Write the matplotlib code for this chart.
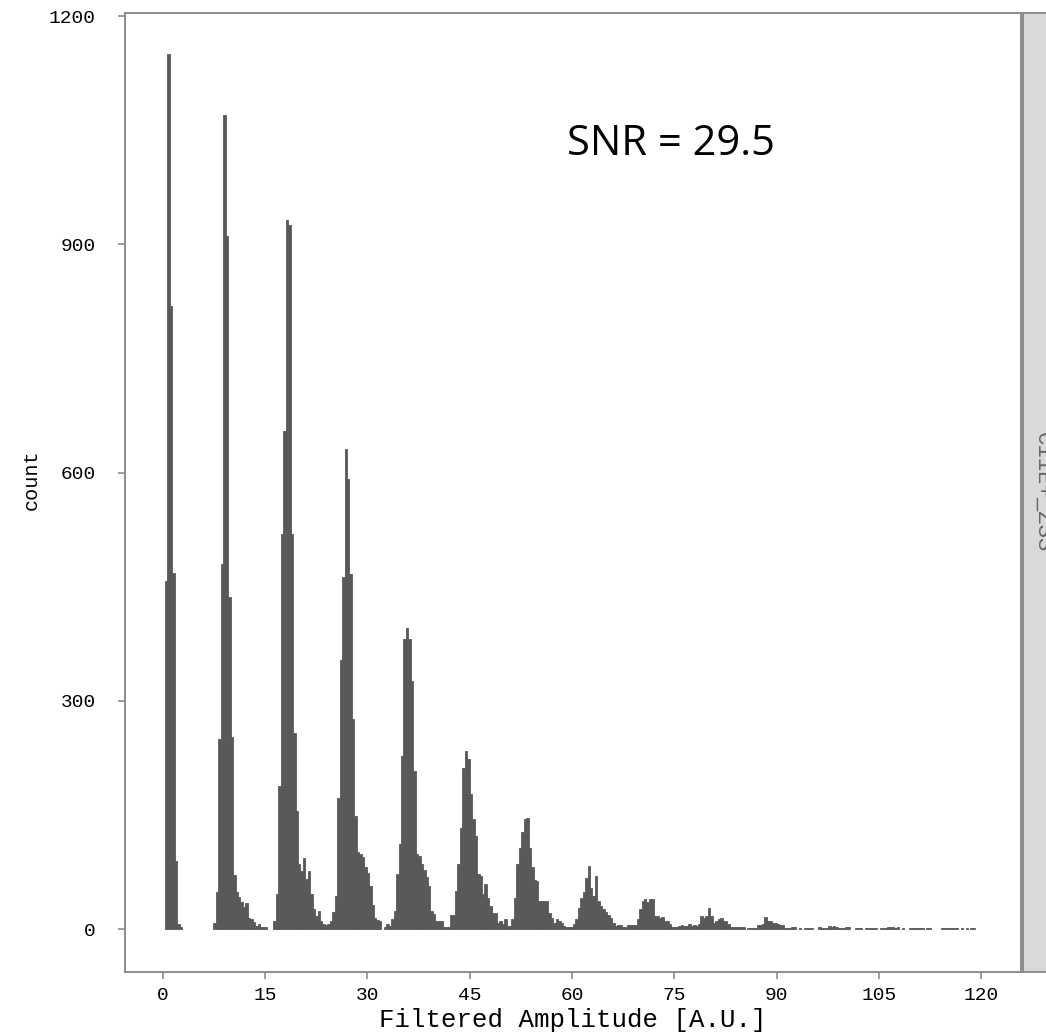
import matplotlib
matplotlib.use("Agg")
import matplotlib.pyplot as plt
import numpy as np

# ---- data: histogram counts per peak cluster (bin width in amplitude units) ----
bin_width = 0.36

peak_starts = [0.30, 7.40, 16.20, 24.84, 33.48, 42.12, 51.12, 59.76, 69.12, 77.40, 85.68]

peak0 = [457, 1150, 819, 468, 89, 6, 3]
peak1 = [8, 48, 250, 480, 1070, 911, 437, 253, 71, 49, 42, 35, 29, 34, 15, 13, 9, 4, 7, 2, 2, 2]
peak2 = [10, 46, 188, 519, 654, 932, 925, 519, 258, 155, 86, 76, 93, 66, 76, 46, 26, 17, 24, 10, 7, 5, 7, 10]
peak3 = [23, 43, 172, 354, 463, 631, 592, 466, 276, 149, 101, 98, 94, 81, 74, 57, 32, 15, 12, 10, 0, 3, 6, 4]
peak4 = [13, 24, 72, 112, 228, 381, 396, 381, 326, 208, 98, 96, 85, 78, 68, 56, 24, 20, 11, 11, 11, 3, 3, 3]
peak5 = [18, 18, 50, 85, 133, 212, 234, 223, 177, 144, 122, 72, 70, 46, 59, 41, 30, 21, 21, 8, 10, 6, 13, 4, 4]
peak6 = [13, 41, 85, 107, 127, 144, 146, 107, 81, 65, 63, 37, 37, 37, 37, 21, 15, 8, 13, 10, 8, 4, 2, 2]
peak7 = [2, 6, 13, 28, 41, 48, 67, 83, 54, 43, 70, 37, 30, 26, 22, 19, 15, 8, 4, 5, 5, 2, 2, 5, 5, 5]
peak8 = [5, 13, 26, 37, 39, 35, 39, 40, 17, 17, 15, 16, 11, 11, 6, 3, 2, 3, 4, 5, 4, 4, 7]
peak9 = [4, 5, 4, 7, 17, 15, 17, 28, 17, 8, 11, 13, 14, 11, 11, 6, 2, 2, 2, 2, 2, 2, 0]
peak10_tail = [1, 1, 1, 1, 5, 5, 6, 16, 11, 11, 8, 8, 6, 5, 5, 1, 1, 1, 2, 2,
               0, 1, 0, 1, 1, 1, 1, 0, 0, 3, 1, 1, 1, 4, 3, 4, 2, 1, 1, 1,
               2, 2, 0, 0, 1, 1, 1, 0, 1, 1, 1, 1, 1, 0, 1, 1, 1, 2, 2, 2,
               1, 2, 0, 1, 0, 0, 1, 1, 1, 1, 1, 1, 0, 1, 1, 0, 0, 0, 0, 1,
               1, 1, 1, 1, 1, 1, 0, 1, 0, 1, 0, 1, 1]

peaks = [peak0, peak1, peak2, peak3, peak4, peak5, peak6, peak7, peak8, peak9, peak10_tail]

x_ticks = [0, 15, 30, 45, 60, 75, 90, 105, 120]
y_ticks = [0, 300, 600, 900, 1200]
x_label = "Filtered Amplitude [A.U.]"
y_label = "count"
annotation = "SNR = 29.5"
strip_label = "C11E+_ZSS"

# ---- figure ----
W, H = 1046, 1036
fig = plt.figure(figsize=(W / 100, H / 100), dpi=100)
ax = fig.add_axes([125 / W, 1 - 972 / H, (1021 - 125) / W, (972 - 13) / H])

bar_color = "#595959"
for start, counts in zip(peak_starts, peaks):
    counts = np.asarray(counts, dtype=float)
    lefts = start + bin_width * np.arange(len(counts))
    mask = counts > 0
    ax.bar(lefts[mask], counts[mask], width=bin_width, align="edge",
           color=bar_color, edgecolor=bar_color, linewidth=0.6)

ax.set_xlim(-5.57, 125.86)
ax.set_ylim(-56.5, 1204)
ax.set_xticks(x_ticks)
ax.set_yticks(y_ticks)

mono = "Liberation Mono"
spine_color = "#8c8c8c"
for s in ax.spines.values():
    s.set_color(spine_color)
    s.set_linewidth(1.4)
ax.tick_params(axis="both", direction="out", length=5, width=1.2, color=spine_color,
               labelsize=14)
ax.tick_params(axis="y", pad=16)
ax.tick_params(axis="x", pad=6)
for lab in ax.get_xticklabels() + ax.get_yticklabels():
    lab.set_fontfamily(mono)
    lab.set_color("black")

ax.set_xlabel(x_label, fontfamily=mono, fontsize=18.5, color="black", labelpad=3)
ax.set_ylabel(y_label, fontfamily=mono, fontsize=14.5, color="black")
ax.yaxis.set_label_coords(-0.094, 0.513)

fig.text(567 / W, 1 - 155 / H, annotation, fontfamily="Open Sans", fontsize=30,
         color="black", ha="left", va="baseline")

# facet strip on the right
strip = fig.add_axes([1023 / W, 1 - 972 / H, 40 / W, (972 - 13) / H])
strip.set_facecolor("#d9d9d9")
strip.set_xticks([])
strip.set_yticks([])
for s in strip.spines.values():
    s.set_color(spine_color)
    s.set_linewidth(1.4)
strip.text(20 / 40, 0.5, strip_label, rotation=-90, ha="center", va="center",
           fontfamily=mono, fontsize=16, color="#666666", transform=strip.transAxes)

fig.savefig("out.png", dpi=100)
